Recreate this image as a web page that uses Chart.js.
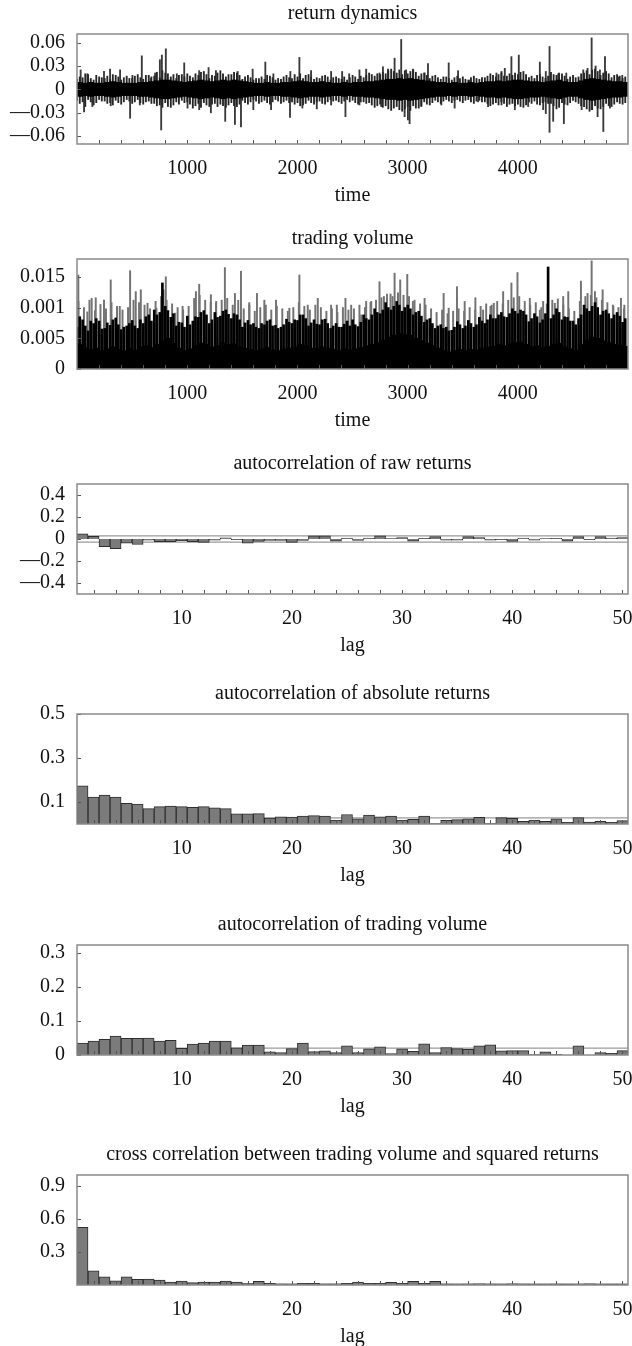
<!DOCTYPE html>
<html>
<head>
<meta charset="utf-8">
<script src="https://cdn.jsdelivr.net/npm/chart.js@4.4.1/dist/chart.umd.min.js"></script>
<style>
  html, body { margin: 0; padding: 0; background: #fff; overflow: hidden; width: 632px; height: 1346px; }
  canvas { position: absolute; left: 0; }
</style>
</head>
<body>
<canvas id="p1" width="660" height="210" style="top:0px"></canvas>
<canvas id="p2" width="660" height="210" style="top:225px"></canvas>
<canvas id="p3" width="660" height="210" style="top:450px"></canvas>
<canvas id="p4" width="660" height="210" style="top:680px"></canvas>
<canvas id="p5" width="660" height="210" style="top:911px"></canvas>
<canvas id="p6" width="660" height="210" style="top:1141px"></canvas>
<script>
// ---------------- titles ----------------
const panelTitles = [
  'return dynamics',
  'trading volume',
  'autocorrelation of raw returns',
  'autocorrelation of absolute returns',
  'autocorrelation of trading volume',
  'cross correlation between trading volume and squared returns'
];

// ---------------- time axis ----------------
const timeTicks = [200,400,600,800,1000,1200,1400,1600,1800,2000,2200,2400,2600,2800,3000,3200,3400,3600,3800,4000,4200,4400,4600,4800];
const timeTickLabels = [1000,2000,3000,4000];
const timeBinWidth = 50;

// ---------------- return dynamics (per 50-step bin) ----------------
const retCoreAmp = [
  0.009,0.008,0.009,0.008,0.008,0.009,0.010,0.009,0.008,0.008,
  0.008,0.009,0.009,0.010,0.011,0.012,0.012,0.011,0.010,0.009,
  0.010,0.011,0.012,0.011,0.010,0.011,0.012,0.011,0.012,0.011,
  0.010,0.009,0.008,0.008,0.009,0.008,0.008,0.009,0.009,0.010,
  0.011,0.010,0.009,0.009,0.010,0.009,0.008,0.008,0.009,0.008,
  0.009,0.009,0.010,0.010,0.011,0.012,0.013,0.013,0.014,0.013,
  0.014,0.013,0.012,0.011,0.010,0.009,0.009,0.008,0.009,0.008,
  0.008,0.009,0.008,0.009,0.010,0.010,0.011,0.010,0.011,0.012,
  0.012,0.011,0.010,0.010,0.009,0.010,0.011,0.012,0.010,0.009,
  0.009,0.011,0.013,0.014,0.013,0.012,0.011,0.010,0.010,0.009
];
const retFringeHi = [
  0.016,0.020,0.014,0.018,0.015,0.017,0.019,0.016,0.015,0.014,
  0.017,0.015,0.018,0.016,0.022,0.024,0.020,0.019,0.018,0.016,
  0.017,0.020,0.022,0.019,0.018,0.021,0.020,0.019,0.022,0.018,
  0.016,0.015,0.014,0.016,0.018,0.015,0.014,0.016,0.015,0.019,
  0.020,0.018,0.016,0.015,0.017,0.016,0.015,0.014,0.016,0.015,
  0.016,0.017,0.018,0.019,0.020,0.022,0.024,0.023,0.025,0.024,
  0.023,0.022,0.020,0.018,0.017,0.015,0.016,0.014,0.015,0.014,
  0.013,0.015,0.014,0.015,0.017,0.018,0.019,0.017,0.020,0.021,
  0.022,0.019,0.017,0.018,0.016,0.017,0.019,0.021,0.017,0.016,
  0.015,0.020,0.024,0.025,0.023,0.021,0.020,0.018,0.017,0.016
];
const retFringeLo = [
  -0.018,-0.022,-0.016,-0.017,-0.015,-0.018,-0.020,-0.017,-0.016,-0.015,
  -0.016,-0.017,-0.016,-0.018,-0.021,-0.023,-0.022,-0.020,-0.019,-0.017,
  -0.019,-0.021,-0.023,-0.020,-0.019,-0.022,-0.021,-0.020,-0.021,-0.019,
  -0.017,-0.016,-0.015,-0.016,-0.017,-0.016,-0.015,-0.016,-0.017,-0.019,
  -0.021,-0.018,-0.017,-0.016,-0.018,-0.016,-0.015,-0.016,-0.015,-0.016,
  -0.017,-0.016,-0.018,-0.020,-0.021,-0.023,-0.025,-0.024,-0.026,-0.025,
  -0.027,-0.024,-0.021,-0.019,-0.017,-0.016,-0.015,-0.015,-0.014,-0.015,
  -0.014,-0.016,-0.015,-0.016,-0.018,-0.019,-0.020,-0.018,-0.019,-0.021,
  -0.022,-0.020,-0.018,-0.019,-0.017,-0.018,-0.021,-0.023,-0.019,-0.017,
  -0.016,-0.021,-0.025,-0.026,-0.024,-0.022,-0.021,-0.019,-0.018,-0.017
];
// second set of fringe excursions, at the start of each bin
const retFringe2Hi = [
  0.013,0.015,0.019,0.012,0.016,0.014,0.013,0.018,0.012,0.017,
  0.014,0.019,0.013,0.018,0.017,0.015,0.021,0.016,0.014,0.019,
  0.020,0.015,0.018,0.023,0.014,0.017,0.024,0.016,0.019,0.021,
  0.013,0.018,0.012,0.014,0.013,0.017,0.012,0.013,0.018,0.014,
  0.016,0.014,0.019,0.013,0.014,0.018,0.012,0.016,0.013,0.012,
  0.018,0.013,0.015,0.021,0.017,0.019,0.020,0.026,0.021,0.019,
  0.020,0.025,0.017,0.021,0.014,0.018,0.013,0.016,0.012,0.017,
  0.016,0.012,0.017,0.013,0.015,0.020,0.016,0.021,0.017,0.018,
  0.019,0.023,0.015,0.014,0.019,0.014,0.022,0.018,0.020,0.013,
  0.018,0.016,0.021,0.019,0.026,0.018,0.023,0.015,0.019,0.014
];
const retFringe2Lo = [
  -0.014,-0.016,-0.013,-0.020,-0.013,-0.015,-0.017,-0.014,-0.019,-0.013,
  -0.018,-0.013,-0.019,-0.015,-0.018,-0.020,-0.017,-0.023,-0.016,-0.014,
  -0.016,-0.024,-0.018,-0.017,-0.022,-0.018,-0.019,-0.023,-0.017,-0.022,
  -0.014,-0.019,-0.013,-0.018,-0.014,-0.019,-0.013,-0.018,-0.014,-0.016,
  -0.017,-0.020,-0.014,-0.019,-0.015,-0.019,-0.013,-0.014,-0.018,-0.013,
  -0.014,-0.019,-0.016,-0.017,-0.023,-0.019,-0.021,-0.027,-0.022,-0.028,
  -0.022,-0.021,-0.024,-0.016,-0.020,-0.014,-0.018,-0.013,-0.017,-0.013,
  -0.017,-0.013,-0.018,-0.014,-0.016,-0.021,-0.017,-0.016,-0.022,-0.018,
  -0.019,-0.023,-0.016,-0.015,-0.020,-0.016,-0.018,-0.025,-0.017,-0.020,
  -0.014,-0.018,-0.022,-0.028,-0.021,-0.025,-0.018,-0.022,-0.016,-0.019
];
const retUpTime  = [33,94,245,300,391,503,588,670,709,752,770,806,906,973,1109,1194,1261,1458,1594,1709,1782,1936,2018,2124,2306,2406,2470,2563,2624,2745,2776,2822,2882,2942,2987,3048,3154,3185,3373,3458,3564,3806,3852,3882,3942,4009,4200,4254,4288,4367,4440,4594,4633,4670,4706,4745,4791,4912,4948];
const retUpValue = [0.025,0.020,0.023,0.026,0.025,0.018,0.043,0.014,0.021,0.038,0.044,0.052,0.020,0.034,0.024,0.028,0.024,0.023,0.026,0.035,0.020,0.023,0.041,0.024,0.023,0.023,0.020,0.025,0.026,0.021,0.029,0.026,0.040,0.064,0.025,0.026,0.021,0.033,0.034,0.024,0.012,0.021,0.023,0.027,0.042,0.044,0.035,0.023,0.055,0.020,0.021,0.025,0.027,0.066,0.030,0.025,0.042,0.016,0.018];
const retDownTime  = [64,139,306,482,570,764,1003,1109,1215,1345,1433,1488,1600,1761,1933,2045,2176,2306,2436,2563,2760,2973,3003,3018,3124,3306,3427,3640,3730,3852,3973,4094,4230,4254,4288,4321,4418,4579,4670,4724,4776,4836];
const retDownValue = [-0.029,-0.022,-0.021,-0.037,-0.020,-0.052,-0.024,-0.026,-0.030,-0.041,-0.045,-0.048,-0.026,-0.026,-0.036,-0.024,-0.025,-0.020,-0.035,-0.020,-0.022,-0.035,-0.039,-0.044,-0.022,-0.020,-0.024,-0.016,-0.022,-0.020,-0.026,-0.022,-0.026,-0.031,-0.055,-0.041,-0.044,-0.026,-0.026,-0.035,-0.054,-0.024];
const retTicks = [-0.06,-0.03,0,0.03,0.06];
const retTickLabels = ['\u20140.06','\u20140.03','0','0.03','0.06'];

// ---------------- trading volume (per 50-step bin) ----------------
const volCore = [
  0.0040,0.0035,0.0032,0.0034,0.0030,0.0033,0.0036,0.0032,0.0030,0.0034,
  0.0031,0.0036,0.0038,0.0035,0.0040,0.0046,0.0050,0.0042,0.0034,0.0030,
  0.0033,0.0038,0.0042,0.0040,0.0036,0.0038,0.0043,0.0040,0.0041,0.0036,
  0.0034,0.0032,0.0030,0.0033,0.0035,0.0031,0.0030,0.0032,0.0034,0.0036,
  0.0040,0.0038,0.0034,0.0033,0.0036,0.0034,0.0032,0.0030,0.0033,0.0031,
  0.0033,0.0035,0.0038,0.0040,0.0043,0.0047,0.0052,0.0055,0.0058,0.0056,
  0.0055,0.0050,0.0046,0.0042,0.0038,0.0034,0.0030,0.0028,0.0030,0.0032,
  0.0030,0.0032,0.0031,0.0034,0.0036,0.0037,0.0040,0.0038,0.0041,0.0043,
  0.0044,0.0040,0.0037,0.0038,0.0035,0.0037,0.0040,0.0042,0.0036,0.0033,
  0.0030,0.0040,0.0048,0.0052,0.0050,0.0046,0.0043,0.0040,0.0039,0.0037
];
const volDark = [
  0.0085,0.0070,0.0078,0.0082,0.0065,0.0075,0.0080,0.0072,0.0068,0.0074,
  0.0070,0.0080,0.0085,0.0078,0.0088,0.0140,0.0095,0.0090,0.0076,0.0068,
  0.0072,0.0085,0.0092,0.0088,0.0080,0.0084,0.0094,0.0089,0.0090,0.0080,
  0.0075,0.0072,0.0068,0.0074,0.0078,0.0070,0.0066,0.0072,0.0076,0.0080,
  0.0088,0.0082,0.0075,0.0073,0.0080,0.0074,0.0070,0.0068,0.0073,0.0070,
  0.0072,0.0076,0.0082,0.0088,0.0092,0.0096,0.0100,0.0102,0.0104,0.0100,
  0.0098,0.0092,0.0086,0.0080,0.0074,0.0070,0.0066,0.0062,0.0068,0.0072,
  0.0070,0.0074,0.0072,0.0078,0.0080,0.0082,0.0088,0.0085,0.0090,0.0094,
  0.0096,0.0088,0.0082,0.0085,0.0080,0.0166,0.0088,0.0092,0.0085,0.0078,
  0.0072,0.0088,0.0098,0.0102,0.0100,0.0094,0.0090,0.0088,0.0086,0.0082
];
const volDark2 = [
  0.0068,0.0080,0.0062,0.0074,0.0078,0.0066,0.0071,0.0083,0.0064,0.0070,
  0.0079,0.0066,0.0074,0.0088,0.0096,0.0092,0.0102,0.0084,0.0070,0.0075,
  0.0086,0.0078,0.0084,0.0095,0.0074,0.0092,0.0086,0.0096,0.0082,0.0088,
  0.0068,0.0079,0.0074,0.0066,0.0072,0.0080,0.0071,0.0068,0.0081,0.0074,
  0.0079,0.0088,0.0070,0.0080,0.0072,0.0081,0.0066,0.0074,0.0068,0.0078,
  0.0080,0.0069,0.0088,0.0080,0.0098,0.0090,0.0108,0.0096,0.0110,0.0094,
  0.0104,0.0088,0.0094,0.0076,0.0082,0.0066,0.0072,0.0068,0.0063,0.0077,
  0.0066,0.0079,0.0068,0.0084,0.0074,0.0088,0.0082,0.0092,0.0084,0.0098,
  0.0090,0.0094,0.0077,0.0090,0.0075,0.0090,0.0082,0.0098,0.0080,0.0084,
  0.0078,0.0082,0.0104,0.0094,0.0108,0.0088,0.0096,0.0082,0.0092,0.0076
];
const volMid = [
  0.0110,0.0100,0.0112,0.0095,0.0105,0.0098,0.0108,0.0102,0.0096,0.0100,
  0.0112,0.0108,0.0104,0.0098,0.0110,0.0118,0.0112,0.0106,0.0100,0.0096,
  0.0102,0.0115,0.0120,0.0112,0.0108,0.0110,0.0112,0.0115,0.0104,0.0112,
  0.0098,0.0108,0.0094,0.0100,0.0104,0.0096,0.0102,0.0098,0.0094,0.0100,
  0.0108,0.0102,0.0096,0.0104,0.0100,0.0094,0.0098,0.0092,0.0100,0.0096,
  0.0098,0.0104,0.0100,0.0108,0.0112,0.0116,0.0122,0.0118,0.0124,0.0120,
  0.0118,0.0112,0.0106,0.0104,0.0098,0.0092,0.0096,0.0090,0.0094,0.0098,
  0.0094,0.0100,0.0096,0.0102,0.0106,0.0104,0.0110,0.0106,0.0112,0.0116,
  0.0118,0.0110,0.0104,0.0108,0.0100,0.0106,0.0112,0.0114,0.0104,0.0098,
  0.0094,0.0110,0.0118,0.0120,0.0116,0.0112,0.0108,0.0104,0.0100,0.0098
];
const volPeakTime  = [12,94,133,170,245,306,388,482,533,579,640,721,785,806,891,958,1079,1109,1215,1261,1342,1433,1488,1564,1633,1700,1806,1927,2018,2094,2185,2306,2358,2436,2488,2579,2624,2670,2745,2785,2845,2882,2933,2997,3048,3154,3327,3373,3448,3518,3615,3685,3752,3782,3867,3942,3997,4109,4200,4230,4336,4412,4458,4573,4633,4670,4700,4770,4867,4936,4967];
const volPeakValue = [0.0153,0.0093,0.0115,0.0116,0.0112,0.0145,0.0102,0.0160,0.0126,0.0129,0.0107,0.0099,0.0129,0.0150,0.0091,0.0102,0.0126,0.0138,0.0121,0.0107,0.0165,0.0123,0.0159,0.0104,0.0123,0.0112,0.0112,0.0099,0.0153,0.0104,0.0115,0.0104,0.0104,0.0115,0.0104,0.0088,0.0110,0.0110,0.0142,0.0118,0.0122,0.0156,0.0145,0.0154,0.0110,0.0115,0.0123,0.0099,0.0134,0.0110,0.0116,0.0096,0.0102,0.0107,0.0126,0.0140,0.0157,0.0115,0.0096,0.0110,0.0107,0.0118,0.0126,0.0143,0.0123,0.0176,0.0126,0.0129,0.0102,0.0115,0.0104];
const volTicks = [0,0.005,0.010,0.015];
const volTickLabels = ['0','0.005','0.001','0.015'];

// ---------------- correlation panels (lags 1..50) ----------------
const lagTicks = [2,4,6,8,10,12,14,16,18,20,22,24,26,28,30,32,34,36,38,40,42,44,46,48,50];
const lagTickLabels = [10,20,30,40,50];
const rawAcf = [0.047,0.025,-0.069,-0.088,-0.038,-0.050,-0.010,-0.025,-0.025,-0.016,
  -0.025,-0.031,-0.010,0.010,-0.006,-0.038,-0.022,-0.013,-0.013,-0.031,
  -0.013,0.028,0.028,-0.019,0.009,-0.013,0.009,0.028,0.003,0.013,
  -0.019,0.006,0.022,-0.010,-0.010,0.022,0.013,-0.010,-0.006,-0.022,
  0.009,-0.010,0.003,0.006,-0.019,0.022,-0.006,0.022,0.009,0.013];
const absAcf = [0.173,0.122,0.132,0.122,0.094,0.091,0.070,0.079,0.082,0.079,
  0.076,0.079,0.073,0.070,0.046,0.046,0.047,0.027,0.033,0.032,
  0.036,0.038,0.036,0.018,0.043,0.024,0.041,0.033,0.036,0.018,
  0.021,0.036,0.002,0.017,0.020,0.024,0.030,0.003,0.029,0.026,
  0.012,0.018,0.012,0.024,0.008,0.029,0.009,0.012,0.008,0.015];
const volAcf = [0.035,0.041,0.046,0.056,0.049,0.049,0.050,0.041,0.043,0.020,
  0.032,0.035,0.041,0.041,0.021,0.029,0.029,0.009,0.007,0.019,
  0.035,0.010,0.012,0.007,0.027,0.007,0.018,0.024,0.004,0.018,
  0.011,0.033,0.007,0.022,0.019,0.017,0.027,0.030,0.012,0.013,
  0.013,0.001,0.009,0.002,0.000,0.027,0.000,0.007,0.005,0.013];
const crossCorr = [0.525,0.129,0.075,0.039,0.075,0.051,0.054,0.045,0.027,0.036,
  0.021,0.027,0.027,0.036,0.027,0.012,0.033,0.015,0.009,0.006,
  0.015,0.015,0.009,0.009,0.015,0.027,0.015,0.015,0.024,0.015,
  0.033,0.015,0.033,0.008,0.007,0.009,0.010,0.008,0.006,0.011,
  0.009,0.007,0.006,0.008,0.005,0.004,0.010,0.006,0.005,0.007];
const rawBand = [0.028, -0.028];
const absBand = [0.028];
const volBand = [0.02];
const crossBand = [0.01];
const rawTicks = [-0.4,-0.2,0,0.2,0.4];
const rawTickLabels = ['\u20140.4','\u20140.2','0','0.2','0.4'];
const absTicks = [0.1,0.3,0.5];
const absTickLabels = ['0.1','0.3','0.5'];
const volAcfTicks = [0,0.1,0.2,0.3];
const volAcfTickLabels = ['0','0.1','0.2','0.3'];
const crossTicks = [0.3,0.6,0.9];
const crossTickLabels = ['0.3','0.6','0.9'];

// ---------------- rendering ----------------
Chart.defaults.font.family = "'Liberation Serif','Times New Roman',serif";
Chart.defaults.color = '#111';

const CANVAS_W = 660, BOX_LEFT = 77, BOX_RIGHT = 628;
const TITLE_FONT = 20, TICK_FONT = 20;

const framePlugin = {
  id: 'frame',
  afterDatasetsDraw(chart) {
    const { ctx, chartArea: a, scales } = chart;
    ctx.save();
    ctx.strokeStyle = '#555';
    ctx.lineWidth = 1;
    ctx.beginPath();
    scales.x.ticks.forEach(t => {
      const px = Math.round(scales.x.getPixelForValue(t.value)) + 0.5;
      ctx.moveTo(px, a.bottom); ctx.lineTo(px, a.bottom - 4);
    });
    scales.y.ticks.forEach(t => {
      const py = Math.round(scales.y.getPixelForValue(t.value)) + 0.5;
      ctx.moveTo(a.left, py); ctx.lineTo(a.left + 4, py);
    });
    ctx.stroke();
    ctx.strokeStyle = '#8a8a8a';
    ctx.lineWidth = 1.5;
    ctx.strokeRect(a.left, a.top, a.right - a.left, a.bottom - a.top);
    ctx.restore();
  }
};

function makeChart(id, cfg) {
  return new Chart(document.getElementById(id), {
    type: 'bar',
    data: { datasets: cfg.datasets },
    plugins: [framePlugin],
    options: {
      responsive: false,
      animation: false,
      events: [],
      layout: { padding: { left: 0, right: CANVAS_W - BOX_RIGHT, top: 0, bottom: 0 } },
      plugins: {
        legend: { display: false },
        tooltip: { enabled: false },
        title: {
          display: true, text: cfg.title, fullSize: false,
          font: { size: TITLE_FONT, weight: 'normal' }, color: '#111',
          padding: { top: 2, bottom: 8 }
        }
      },
      scales: {
        x: {
          type: 'linear', min: cfg.xMin, max: cfg.xMax, offset: false,
          grid: { display: false, drawTicks: false, offset: false },
          border: { display: false },
          afterBuildTicks: s => { s.ticks = cfg.xTicks.map(v => ({ value: v })); },
          ticks: {
            padding: 13, autoSkip: false, maxRotation: 0, color: '#111',
            font: { size: TICK_FONT },
            callback: v => cfg.xLabels.includes(v) ? String(v) : ''
          },
          title: { display: true, text: cfg.xTitle, color: '#111', font: { size: TITLE_FONT }, padding: { top: 0, bottom: 2 } },
          afterFit: s => { s.height = 66; }
        },
        y: {
          min: cfg.yMin, max: cfg.yMax,
          grid: { display: false, drawTicks: false },
          border: { display: false },
          afterBuildTicks: s => { s.ticks = cfg.yTicks.map(v => ({ value: v })); },
          ticks: {
            padding: 12, autoSkip: false, color: '#111',
            font: { size: TICK_FONT },
            callback: (v, i) => cfg.yLabels[i]
          },
          afterFit: s => { s.width = BOX_LEFT; }
        }
      }
    }
  });
}

function thinBars(xs, ys, color, px, order) {
  return {
    type: 'bar', order: order, grouped: false,
    data: xs.map((x, i) => ({ x: x, y: ys[i] })),
    backgroundColor: color, borderWidth: 0, barThickness: px
  };
}

const binCenters = retCoreAmp.map((_, i) => i * timeBinWidth + timeBinWidth / 2);
const binStarts = retCoreAmp.map((_, i) => i * timeBinWidth + 1);

// Panel 1: return dynamics
makeChart('p1', {
  title: panelTitles[0], xTitle: 'time',
  xMin: 0, xMax: 5000, xTicks: timeTicks, xLabels: timeTickLabels,
  yMin: -0.07, yMax: 0.071, yTicks: retTicks, yLabels: retTickLabels,
  datasets: [
    thinBars(binCenters, retCoreAmp.map(a => [-a, a]), '#000', 6, 1),
    thinBars(binCenters, retFringeHi.map((h, i) => [retFringeLo[i], h]), '#262626', 1.2, 2),
    thinBars(binStarts, retFringe2Hi.map((h, i) => [retFringe2Lo[i], h]), '#262626', 1.2, 2),
    thinBars(retUpTime, retUpValue, '#3a3a3a', 1.2, 3),
    thinBars(retDownTime, retDownValue, '#3a3a3a', 1.2, 3)
  ]
});

// Panel 2: trading volume
makeChart('p2', {
  title: panelTitles[1], xTitle: 'time',
  xMin: 0, xMax: 5000, xTicks: timeTicks, xLabels: timeTickLabels,
  yMin: 0, yMax: 0.0179, yTicks: volTicks, yLabels: volTickLabels,
  datasets: [
    thinBars(binCenters, volCore, '#000', 6, 1),
    thinBars(binCenters, volDark, '#000', 2, 2),
    thinBars(binStarts, volDark2, '#000', 2, 2),
    thinBars(binCenters.map(c => c - 12), volMid, '#737373', 1.3, 3),
    thinBars(volPeakTime, volPeakValue, '#737373', 1.3, 4)
  ]
});

const lags = absAcf.map((_, i) => i + 1);

function acfPanel(id, title, values, bands, yMin, yMax, yTicks, yLabels) {
  const datasets = [{
    type: 'bar', order: 1, grouped: false,
    data: lags.map((l, i) => ({ x: l, y: values[i] })),
    backgroundColor: '#7b7b7b', borderColor: '#2e2e2e', borderWidth: 1,
    barPercentage: 1, categoryPercentage: 1
  }];
  bands.forEach(b => datasets.push({
    type: 'line', order: 2,
    data: [{ x: 0.5, y: b }, { x: 50.5, y: b }],
    borderColor: '#9a9a9a', borderWidth: 1.2, pointRadius: 0, fill: false
  }));
  makeChart(id, {
    title: title, xTitle: 'lag',
    xMin: 0.5, xMax: 50.5, xTicks: lagTicks, xLabels: lagTickLabels,
    yMin: yMin, yMax: yMax, yTicks: yTicks, yLabels: yLabels,
    datasets: datasets
  });
}

acfPanel('p3', panelTitles[2], rawAcf, rawBand, -0.5, 0.5, rawTicks, rawTickLabels);
acfPanel('p4', panelTitles[3], absAcf, absBand, 0, 0.5, absTicks, absTickLabels);
acfPanel('p5', panelTitles[4], volAcf, volBand, 0, 0.324, volAcfTicks, volAcfTickLabels);
acfPanel('p6', panelTitles[5], crossCorr, crossBand, 0, 1.0, crossTicks, crossTickLabels);
</script>
</body>
</html>
